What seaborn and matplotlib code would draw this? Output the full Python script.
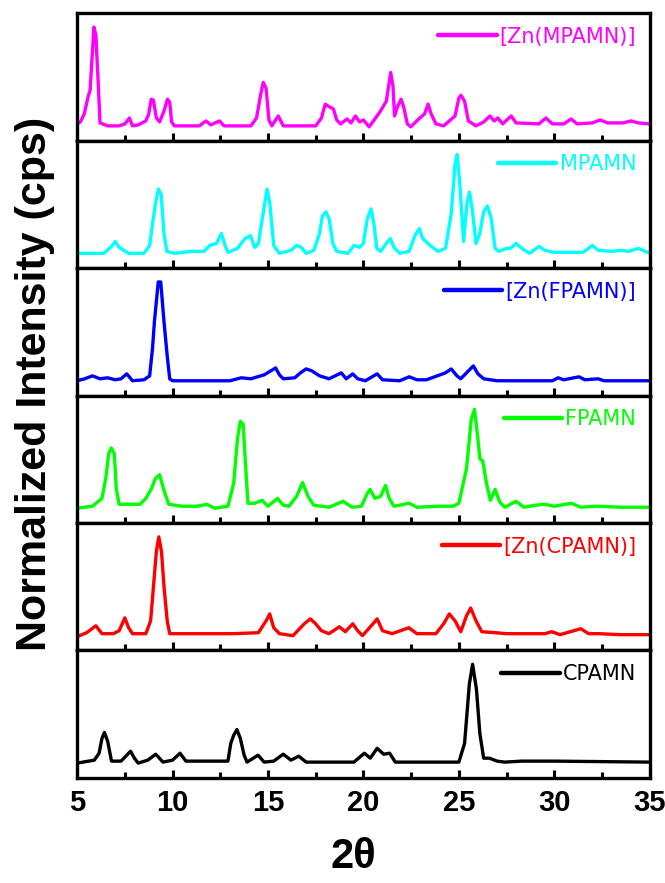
import numpy as np
import pandas as pd
import seaborn as sns
import matplotlib.pyplot as plt
from matplotlib.ticker import MultipleLocator

sns.set_style("white")
plt.rcParams['font.family'] = ['Liberation Sans', 'DejaVu Sans']
plt.rcParams['text.color'] = 'black'
plt.rcParams['xtick.color'] = 'black'
plt.rcParams['axes.labelcolor'] = 'black'

# XRD patterns (2theta, normalized intensity)
zn_mpamn_x = [5.0, 5.17, 5.37, 5.58, 5.68, 5.80, 5.88, 5.98, 6.10, 6.20, 6.6, 7.2, 7.5, 7.74, 7.9, 8.2, 8.6,
              8.75, 8.88, 9.0, 9.15, 9.32, 9.55, 9.73, 9.85, 9.95, 10.1, 11.4, 11.75, 12.0, 12.46, 12.7,
              14.1, 14.4, 14.6, 14.75, 14.9, 15.05, 15.2, 15.54, 15.8, 17.5, 17.8, 18.0, 18.15, 18.43, 18.6,
              18.8, 19.14, 19.35, 19.58, 19.8, 20.0, 20.3, 20.86, 21.2, 21.43, 21.55, 21.63, 21.8, 21.97,
              22.1, 22.3, 22.48, 22.9, 23.2, 23.39, 23.55, 23.8, 24.2, 24.8, 25.0, 25.11, 25.3, 25.5, 25.9,
              26.3, 26.63, 26.85, 27.04, 27.3, 27.74, 28.0, 29.2, 29.56, 29.9, 30.5, 30.88, 31.2, 32.0,
              32.4, 32.8, 33.6, 34.02, 34.4, 35.0]
zn_mpamn_y = [0.02, 0.04, 0.12, 0.30, 0.36, 0.75, 1.0, 0.92, 0.45, 0.03, 0.0, 0.0, 0.02, 0.08, 0.0, 0.01, 0.05,
              0.12, 0.27, 0.26, 0.08, 0.04, 0.15, 0.27, 0.24, 0.04, 0.0, 0.0, 0.05, 0.01, 0.05, 0.0,
              0.0, 0.08, 0.30, 0.44, 0.38, 0.06, 0.0, 0.10, 0.0, 0.0, 0.08, 0.22, 0.20, 0.17, 0.06,
              0.02, 0.07, 0.03, 0.10, 0.04, 0.06, -0.01, 0.14, 0.25, 0.54, 0.40, 0.10, 0.20, 0.27,
              0.20, 0.02, -0.01, 0.07, 0.12, 0.22, 0.12, 0.02, 0.0, 0.10, 0.28, 0.31, 0.25, 0.05, 0.0,
              0.04, 0.10, 0.05, 0.08, 0.02, 0.10, 0.03, 0.02, 0.08, 0.02, 0.02, 0.07, 0.02, 0.03,
              0.06, 0.03, 0.03, 0.05, 0.03, 0.02]

mpamn_x = [5.0, 6.4, 6.8, 7.0, 7.2, 7.7, 8.5, 8.8, 8.95, 9.1, 9.26, 9.4, 9.55, 9.7, 10.1, 11.0, 11.65, 11.95,
           12.3, 12.56, 12.75, 12.9, 13.4, 13.8, 14.08, 14.3, 14.5, 14.7, 14.95, 15.1, 15.3, 15.6, 16.2,
           16.5, 16.75, 17.0, 17.4, 17.7, 17.85, 18.03, 18.2, 18.4, 18.6, 19.2, 19.5, 19.8, 20.0, 20.2,
           20.4, 20.55, 20.7, 20.9, 21.2, 21.41, 21.6, 21.9, 22.4, 22.7, 22.93, 23.1, 23.5, 23.9, 24.3,
           24.6, 24.8, 24.91, 25.05, 25.25, 25.42, 25.56, 25.7, 25.9, 26.1, 26.3, 26.5, 26.7, 26.9, 27.1,
           27.5, 27.7, 28.0, 28.3, 28.7, 29.2, 29.5, 30.0, 31.5, 32.0, 32.3, 33.0, 33.5, 33.9, 34.4, 35.0]
mpamn_y = [0.0, 0.0, 0.07, 0.12, 0.06, 0.0, 0.0, 0.08, 0.30, 0.50, 0.65, 0.60, 0.20, 0.02, 0.0, 0.02, 0.02, 0.08,
           0.10, 0.20, 0.08, 0.01, 0.05, 0.15, 0.18, 0.06, 0.10, 0.35, 0.65, 0.50, 0.08, 0.0, 0.03,
           0.08, 0.06, 0.0, 0.03, 0.20, 0.38, 0.42, 0.35, 0.10, 0.02, 0.0, 0.08, 0.06, 0.10, 0.35,
           0.45, 0.30, 0.05, 0.02, 0.10, 0.15, 0.06, 0.0, 0.02, 0.18, 0.25, 0.15, 0.08, 0.02, 0.05,
           0.40, 0.90, 1.0, 0.70, 0.12, 0.50, 0.62, 0.45, 0.10, 0.20, 0.42, 0.48, 0.35, 0.05, 0.02,
           0.05, 0.05, 0.10, 0.05, 0.0, 0.07, 0.03, 0.01, 0.01, 0.08, 0.03, 0.02, 0.03, 0.02, 0.05, 0.0]

zn_fpamn_x = [5.0, 5.4, 5.8, 6.2, 6.6, 7.0, 7.3, 7.6, 7.9, 8.5, 8.8, 8.95, 9.05, 9.25, 9.38, 9.55, 9.72, 9.85,
              10.0, 13.0, 13.6, 14.1, 14.8, 15.4, 15.6, 15.8, 16.4, 16.7, 17.0, 17.3, 17.7, 18.2, 18.84,
              19.1, 19.44, 19.7, 20.1, 20.72, 21.0, 21.9, 22.4, 22.8, 23.3, 24.3, 24.6, 24.9, 25.1, 25.5,
              25.76, 26.0, 26.3, 27.0, 29.9, 30.2, 30.5, 31.3, 31.6, 32.3, 32.6, 35.0]
zn_fpamn_y = [0.0, 0.02, 0.05, 0.02, 0.03, 0.01, 0.02, 0.07, 0.0, 0.01, 0.05, 0.33, 0.60, 1.0, 1.0, 0.60, 0.25, 0.02,
              0.0, 0.0, 0.03, 0.02, 0.06, 0.13, 0.06, 0.02, 0.03, 0.08, 0.12, 0.10, 0.05, 0.02, 0.08,
              0.02, 0.07, 0.02, 0.0, 0.07, 0.01, 0.0, 0.04, 0.01, 0.01, 0.08, 0.12, 0.05, 0.02, 0.10,
              0.15, 0.07, 0.02, 0.0, 0.0, 0.03, 0.01, 0.04, 0.01, 0.02, 0.0, 0.0]

fpamn_x = [5.0, 5.8, 6.3, 6.5, 6.65, 6.79, 6.95, 7.05, 7.2, 7.8, 8.3, 8.6, 8.9, 9.1, 9.32, 9.55, 9.8, 10.5,
           11.3, 11.8, 12.2, 12.9, 13.2, 13.4, 13.55, 13.7, 13.82, 13.95, 14.3, 14.7, 15.0, 15.5, 15.8,
           16.1, 16.5, 16.81, 17.1, 17.4, 18.2, 18.94, 19.4, 19.9, 20.2, 20.35, 20.6, 20.9, 21.16, 21.35,
           21.6, 22.4, 22.8, 24.0, 24.7, 25.0, 25.4, 25.65, 25.82, 26.0, 26.1, 26.25, 26.45, 26.65, 26.9,
           27.15, 27.4, 28.0, 28.4, 29.0, 29.5, 30.0, 30.9, 31.4, 32.2, 33.5, 35.0]
fpamn_y = [0.0, 0.02, 0.10, 0.30, 0.55, 0.61, 0.55, 0.20, 0.04, 0.04, 0.04, 0.10, 0.20, 0.30, 0.34, 0.18, 0.04, 0.02,
           0.02, 0.04, 0.0, 0.02, 0.25, 0.70, 0.88, 0.85, 0.45, 0.05, 0.05, 0.08, 0.02, 0.10, 0.03,
           0.02, 0.12, 0.26, 0.12, 0.03, 0.01, 0.07, 0.01, 0.02, 0.15, 0.19, 0.10, 0.12, 0.23, 0.10,
           0.02, 0.05, 0.01, 0.02, 0.02, 0.05, 0.40, 0.90, 1.0, 0.70, 0.50, 0.48, 0.25, 0.08, 0.19,
           0.06, 0.01, 0.07, 0.01, 0.03, 0.04, 0.02, 0.05, 0.01, 0.02, 0.01, 0.01]

zn_cpamn_x = [5.0, 5.5, 5.98, 6.3, 6.9, 7.2, 7.5, 7.7, 7.9, 8.6, 8.85, 9.0, 9.15, 9.28, 9.42, 9.55, 9.72, 9.85,
              10.5, 12.0, 13.2, 14.5, 14.9, 15.09, 15.3, 15.6, 16.31, 16.9, 17.22, 17.5, 17.8, 18.2, 18.74,
              19.05, 19.44, 19.7, 19.95, 20.5, 20.72, 21.0, 21.5, 22.38, 22.8, 23.8, 24.2, 24.5, 24.8, 25.1,
              25.4, 25.62, 25.9, 26.2, 26.9, 27.5, 29.5, 29.87, 30.3, 31.39, 31.8, 32.3, 33.5, 35.0]
zn_cpamn_y = [-0.01, 0.03, 0.10, 0.02, 0.02, 0.05, 0.18, 0.08, 0.02, 0.02, 0.15, 0.50, 0.85, 1.0, 0.85, 0.50, 0.15, 0.02,
              0.02, 0.02, 0.02, 0.03, 0.15, 0.22, 0.08, 0.02, 0.0, 0.12, 0.17, 0.12, 0.05, 0.02, 0.09,
              0.04, 0.12, 0.05, 0.0, 0.12, 0.17, 0.05, 0.02, 0.08, 0.02, 0.02, 0.12, 0.22, 0.15, 0.04,
              0.20, 0.28, 0.15, 0.04, 0.03, 0.02, 0.02, 0.04, 0.01, 0.07, 0.02, 0.02, 0.01, 0.01]

cpamn_x = [5.0, 5.9, 6.15, 6.3, 6.43, 6.6, 6.8, 7.3, 7.6, 7.8, 8.0, 8.2, 8.7, 9.12, 9.5, 10.0, 10.39, 10.7,
           11.5, 12.9, 13.05, 13.2, 13.37, 13.55, 13.75, 13.9, 14.48, 14.8, 15.3, 15.8, 16.2, 16.61, 17.0,
           19.5, 20.05, 20.36, 20.72, 21.06, 21.37, 21.67, 25.0, 25.3, 25.55, 25.72, 25.92, 26.1, 26.3,
           26.6, 27.0, 27.4, 28.3, 29.0, 30.0, 35.0]
cpamn_y = [0.0, 0.03, 0.10, 0.25, 0.31, 0.22, 0.02, 0.02, 0.08, 0.12, 0.05, 0.0, 0.03, 0.09, 0.01, 0.03, 0.10, 0.02,
           0.02, 0.02, 0.20, 0.28, 0.34, 0.25, 0.08, 0.01, 0.08, 0.01, 0.02, 0.09, 0.03, 0.07, 0.01,
           0.01, 0.10, 0.05, 0.15, 0.09, 0.10, 0.01, 0.01, 0.20, 0.80, 1.0, 0.75, 0.30, 0.05,
           0.05, 0.02, 0.01, 0.02, 0.02, 0.02, 0.01]

labels = ['[Zn(MPAMN)]', 'MPAMN', '[Zn(FPAMN)]', 'FPAMN', '[Zn(CPAMN)]', 'CPAMN']
colors = ['#ff00ff', '#00ffff', '#0000ff', '#00ff00', '#ff0000', '#000000']
series = [(zn_mpamn_x, zn_mpamn_y), (mpamn_x, mpamn_y), (zn_fpamn_x, zn_fpamn_y),
          (fpamn_x, fpamn_y), (zn_cpamn_x, zn_cpamn_y), (cpamn_x, cpamn_y)]

fig, axes = plt.subplots(6, 1, figsize=(6.65, 8.83), dpi=100, sharex=True)
fig.subplots_adjust(left=0.116, right=0.977, top=0.985, bottom=0.119, hspace=0)

for ax, (xs, ys), lab, col in zip(axes, series, labels, colors):
    df = pd.DataFrame({'two_theta': xs, 'intensity': ys})
    sns.lineplot(data=df, x='two_theta', y='intensity', ax=ax, color=col,
                 linewidth=2.4, label=lab, sort=False)
    ax.set_xlim(5, 35)
    ax.set_ylim(-0.15, 1.14)
    ax.set_yticks([])
    ax.set_xlabel('')
    ax.set_ylabel('')
    for sp in ax.spines.values():
        sp.set_linewidth(2.4)
        sp.set_color('black')
    ax.xaxis.set_major_locator(MultipleLocator(5))
    ax.xaxis.set_minor_locator(MultipleLocator(2.5))
    ax.tick_params(axis='x', which='major', direction='in', length=6, width=2.2,
                   bottom=True, top=False, labelbottom=False)
    ax.tick_params(axis='x', which='minor', direction='in', length=4, width=2.2,
                   bottom=True, top=False)
    leg = ax.legend(loc='upper right', frameon=False, handlelength=2.8, handletextpad=0.15,
                    borderaxespad=0.25, labelcolor='linecolor',
                    prop={'family': 'DejaVu Sans', 'size': 15})
    for ln in leg.get_lines():
        ln.set_linewidth(3.2)

axes[-1].tick_params(axis='x', which='major', labelbottom=True, labelsize=21, pad=8,
                     labelcolor='black')
for t in axes[-1].get_xticklabels():
    t.set_fontweight('bold')

fig.text(0.052, 0.565, 'Normalized Intensity (cps)', rotation=90, ha='center', va='center',
         fontsize=31, fontweight='bold', color='black')
fig.text(0.532, 0.03, '2θ', ha='center', va='center', fontsize=30, fontweight='bold',
         color='black')

fig.savefig('out.png', dpi=100)
